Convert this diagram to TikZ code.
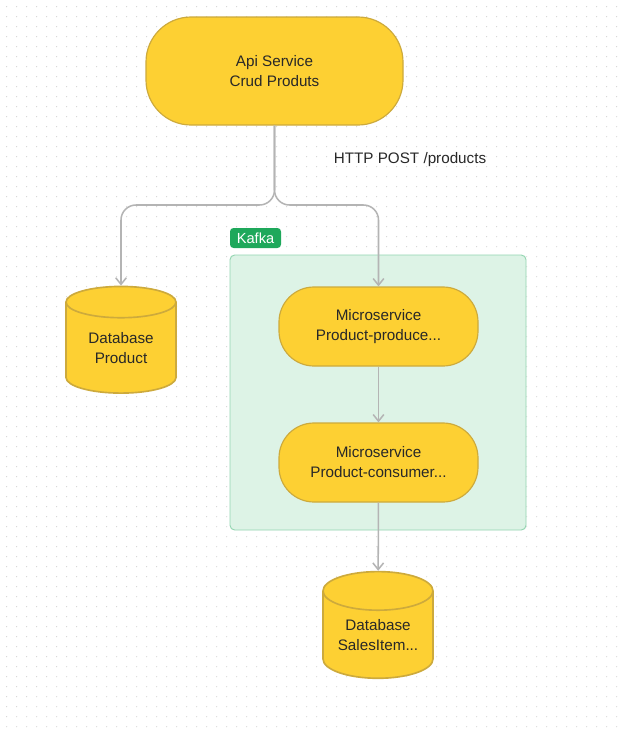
\documentclass[tikz,border=0pt]{standalone}
\usepackage{fontspec}
\setmainfont{Liberation Sans}
\usepackage{xcolor}
\usepackage{tikz}
\usetikzlibrary{shapes.geometric,arrows.meta,positioning,calc,backgrounds}
\definecolor{svcyellow}{RGB}{253, 208, 51}
\definecolor{svcborder}{RGB}{205, 170, 60}
\definecolor{kafkafill}{RGB}{221, 243, 230}
\definecolor{kafkaborder}{RGB}{147, 213, 177}
\definecolor{kafkagreen}{RGB}{30, 168, 91}
\definecolor{linegray}{RGB}{180, 180, 180}
\definecolor{textdark}{RGB}{40, 40, 40}
\definecolor{dotgray}{RGB}{212, 212, 212}

\begin{document}
\begin{tikzpicture}[every node/.style={font=\fontsize{13}{17}\selectfont, text=textdark},
    svc/.style={draw=svcborder, line width=1pt, fill=svcyellow, align=center},
    db/.style={cylinder, shape border rotate=90, aspect=0.48, draw=svcborder, line width=1.4pt, fill=svcyellow, align=center, minimum width=3.3cm, minimum height=3.2cm, inner sep=0pt},
    conn/.style={linegray, line width=1.3pt, -{Straight Barb[length=2mm, width=3.2mm]}}]
    \useasboundingbox (0,0) rectangle (18.66,-21.99);
    \fill[white] (0,0) rectangle (18.66,-21.99);
    % Dot grid
    \foreach \i in {0,...,61}
        \foreach \j in {0,...,72}
            \fill[dotgray] (0.2+0.3*\i, -0.2-0.3*\j) circle (0.018);

    % Kafka group
    \draw[draw=kafkaborder, fill=kafkafill, line width=0.8pt, rounded corners=4pt] (6.9,-7.65) rectangle (15.78,-15.9);
    \node[fill=kafkagreen, rounded corners=3pt, minimum width=1.53cm, minimum height=0.6cm, inner sep=0pt, text=white, font=\fontsize{12.5}{14}\selectfont] (kafkatag) at (7.665,-7.14) {Kafka};

    % Api Node
    \node[svc, rounded corners=1.35cm, minimum width=7.71cm, minimum height=3.24cm] (api) at (8.235,-2.13) {Api Service\\Crud Produts};

    % Databases
    \node[db] (dbprod) at (3.63,-10.44) {Database\\Product};
    \node[db] (dbsales) at (11.34,-19.05) {Database\\SalesItem...};

    % Microservices
    \node[svc, rounded corners=1.05cm, minimum width=5.97cm, minimum height=2.37cm] (producer) at (11.355,-9.795) {Microservice\\Product-produce...};
    \node[svc, rounded corners=1.05cm, minimum width=5.97cm, minimum height=2.37cm] (consumer) at (11.355,-13.875) {Microservice\\Product-consumer...};

    % Label
    \node (httplabel) at (12.3,-4.8) {HTTP POST /products};

    % Arrows
    \coordinate (split) at (8.235,-6.15);
    \draw[conn, rounded corners=0.45cm] (api.south) -- (split) -| (dbprod.north);
    \draw[conn, rounded corners=0.45cm] (api.south) -- (split) -| (producer.north);
    \draw[conn] (producer) -- (consumer);
    \draw[conn] (consumer) -- (dbsales);
\end{tikzpicture}
\end{document}
